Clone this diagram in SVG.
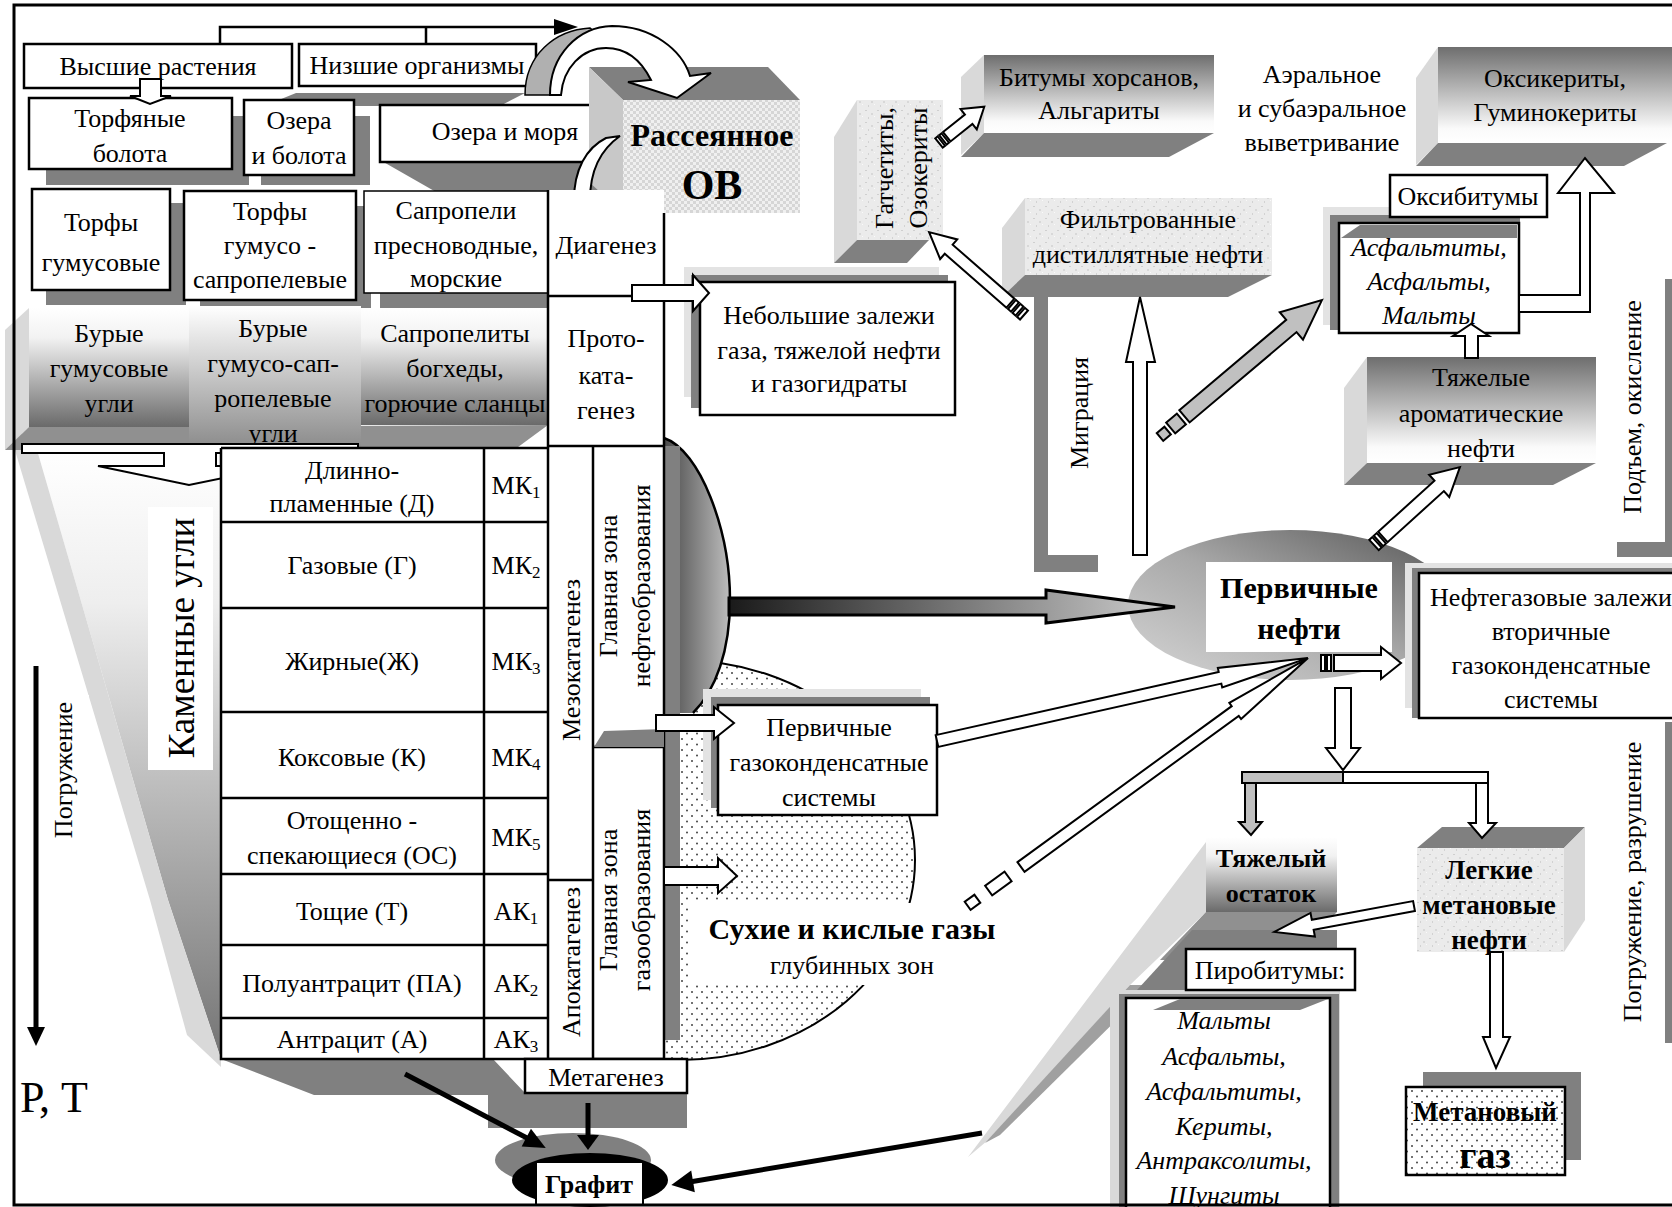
<svg xmlns="http://www.w3.org/2000/svg" width="1672" height="1207" viewBox="0 0 1672 1207">
<defs>
<style>
.t{font-family:"Liberation Serif","Times New Roman",serif;font-size:26px;fill:#000;text-anchor:middle;dominant-baseline:central}
.b{font-weight:bold}
.i{font-style:italic}
.box{fill:#fff;stroke:#000;stroke-width:2.5}
.sh{fill:#808080}
.lt{fill:#d9d9d9}
.lg{fill:#e3e3e3}
.aw{fill:#fff;stroke:#000;stroke-width:2;stroke-linejoin:miter}
.ag{fill:#c0c0c0;stroke:#000;stroke-width:2}
.ln{fill:none;stroke:#000;stroke-width:2.5}
.bl{fill:none;stroke:#000;stroke-width:5}
</style>
<pattern id="dots" width="10" height="11" patternUnits="userSpaceOnUse"><rect width="10" height="11" fill="#fff"/><circle cx="2" cy="2" r="1" fill="#444"/><circle cx="7" cy="7.5" r="1" fill="#444"/></pattern>
<pattern id="checker" width="6" height="6" patternUnits="userSpaceOnUse"><rect width="6" height="6" fill="#f0f0f0"/><rect width="3" height="3" fill="#d6d6d6"/><rect x="3" y="3" width="3" height="3" fill="#d6d6d6"/></pattern>
<pattern id="grain" width="12" height="12" patternUnits="userSpaceOnUse"><rect width="12" height="12" fill="#ebebeb"/><rect x="1" y="2" width="2" height="1" fill="#cfcfcf"/><rect x="7" y="5" width="2" height="2" fill="#d8d8d8"/><rect x="4" y="9" width="1" height="2" fill="#d2d2d2"/><rect x="10" y="8" width="1" height="1" fill="#fafafa"/></pattern>
<linearGradient id="gUp" x1="0" y1="0" x2="0" y2="1"><stop offset="0" stop-color="#6e6e6e"/><stop offset="0.85" stop-color="#fafafa"/><stop offset="1" stop-color="#ffffff"/></linearGradient>
<linearGradient id="gDown" x1="0" y1="0" x2="0" y2="1"><stop offset="0" stop-color="#ffffff"/><stop offset="0.25" stop-color="#f2f2f2"/><stop offset="1" stop-color="#6a6a6a"/></linearGradient>
<linearGradient id="gDown2" x1="0" y1="0" x2="0" y2="1"><stop offset="0" stop-color="#ffffff"/><stop offset="1" stop-color="#8c8c8c"/></linearGradient>
<linearGradient id="gFun" gradientUnits="userSpaceOnUse" x1="0" y1="450" x2="0" y2="1060"><stop offset="0" stop-color="#ffffff"/><stop offset="0.25" stop-color="#eeeeee"/><stop offset="1" stop-color="#747474"/></linearGradient>
<linearGradient id="gEll" x1="0" y1="1" x2="1" y2="0"><stop offset="0" stop-color="#d6d6d6"/><stop offset="0.5" stop-color="#a8a8a8"/><stop offset="1" stop-color="#555555"/></linearGradient>
<linearGradient id="gDome" x1="0" y1="0" x2="1" y2="0"><stop offset="0" stop-color="#4a4a4a"/><stop offset="1" stop-color="#bdbdbd"/></linearGradient>
<linearGradient id="gArr" x1="0" y1="0" x2="1" y2="0"><stop offset="0" stop-color="#1a1a1a"/><stop offset="1" stop-color="#d0d0d0"/></linearGradient>
</defs>
<rect width="1672" height="1207" fill="#fff"/>

<g id="gas-zone">
<ellipse cx="680" cy="860" rx="235" ry="200" fill="url(#dots)" stroke="#000" stroke-width="2"/>
<rect x="688" y="903" width="322" height="82" fill="#fff"/>
<text class="t b" x="852" y="928" style="font-size:30px">Сухие и кислые газы</text>
<text class="t" x="852" y="965">глубинных зон</text>
</g>

<g id="funnel">
<polygon fill="url(#gFun)" points="37,450 221,450 221,1059 168,900"/>
<polygon class="lt" points="5,417 37,450 168,900 221,1059 221,1067 187,1035 150,900"/>
<polygon class="sh" points="221,1059 314,1095 488,1095 488,1128 687,1128 687,1093 525,1093 493,1059"/>
</g>

<g id="top-line">
<path class="ln" d="M220 44 V27 H565 M426 27 V44"/>
<polygon points="578,27 554,19 554,35"/>
</g>

<g id="vysshie"><rect class="box" x="24" y="44" width="268" height="44"/><text class="t" x="158" y="66">Высшие растения</text></g>
<g id="nizshie"><rect class="box" x="299" y="44" width="237" height="42"/><text class="t" x="417" y="65">Низшие организмы</text></g>
<polygon class="sh" points="264,106 296,93 525,93 500,106"/>

<g id="torf-bolota"><rect class="sh" x="46" y="116" width="203" height="69"/><rect class="box" x="29" y="98" width="203" height="71"/><text class="t" x="130" y="118">Торфяные</text><text class="t" x="130" y="153">болота</text></g>
<polygon class="aw" points="140,79 161,79 161,96 171,96 150,104 130,96 140,96"/>
<g id="ozera-bolota"><rect class="sh" x="261" y="116" width="109" height="69"/><rect class="box" x="244" y="100" width="110" height="75"/><text class="t" x="299" y="120">Озера</text><text class="t" x="299" y="155">и болота</text></g>
<g id="ozera-morya"><polygon class="sh" points="380,160 600,160 600,190 436,192"/><rect class="box" x="380" y="105" width="250" height="57"/><text class="t" x="505" y="131">Озера и моря</text></g>

<g id="torfy-gum"><rect class="sh" x="46" y="203" width="140" height="102"/><rect class="box" x="32" y="189" width="138" height="101"/><text class="t" x="101" y="222">Торфы</text><text class="t" x="101" y="262">гумусовые</text></g>
<g id="torfy-gs"><rect class="sh" x="200" y="206" width="171" height="104"/><rect class="box" x="184" y="191" width="172" height="109"/><text class="t" x="270" y="211">Торфы</text><text class="t" x="270" y="245">гумусо -</text><text class="t" x="270" y="279">сапропелевые</text></g>
<g id="sapropeli"><rect class="sh" x="380" y="293" width="168" height="17"/><rect x="364" y="191" width="184" height="102" fill="#fff" stroke="#000" stroke-width="1.5"/><text class="t" x="456" y="210">Сапропели</text><text class="t" x="456" y="245">пресноводные,</text><text class="t" x="456" y="278">морские</text></g>

<g id="burye">
<polygon class="lt" points="5,330 29,308 29,427 5,450"/>
<polygon fill="#909090" points="5,450 29,427 548,425 514,450"/>
<rect x="29" y="308" width="160" height="119" fill="url(#gDown)"/>
<rect x="361" y="308" width="187" height="117" fill="url(#gDown)"/>
<rect x="189" y="306" width="172" height="141" fill="url(#gDown2)"/>
<text class="t" x="109" y="333">Бурые</text><text class="t" x="109" y="368">гумусовые</text><text class="t" x="109" y="403">угли</text>
<text class="t" x="273" y="328">Бурые</text><text class="t" x="273" y="363">гумусо-сап-</text><text class="t" x="273" y="398">ропелевые</text><text class="t" x="273" y="433">угли</text>
<text class="t" x="455" y="333">Сапропелиты</text><text class="t" x="455" y="368">богхеды,</text><text class="t" x="455" y="403">горючие сланцы</text>
</g>
<polygon class="aw" points="22,444 358,444 358,453 216,453 216,466 282,466 189,485 98,466 164,466 164,453 22,453"/>

<g id="kamennye"><rect x="148" y="507" width="65" height="263" fill="#fff"/><text class="t" transform="translate(181,638) rotate(-90)" style="font-size:37px">Каменные угли</text></g>

<g id="pogruzhenie">
<rect x="44" y="695" width="45" height="150" fill="#fff"/>
<text class="t" transform="translate(63,770) rotate(-90)">Погружение</text>
<line x1="36" y1="666" x2="36" y2="1030" stroke="#000" stroke-width="5"/>
<polygon points="27,1027 45,1027 36,1046"/>
</g>
<text class="t" x="20" y="1097" style="text-anchor:start;font-size:44px">Р, Т</text>

<g id="coal-table">
<rect x="221" y="448" width="327" height="611" fill="#fff"/>
<path class="ln" d="M221 448 V1059 H548 M221 448 H548 M221 522 H548 M221 608 H548 M221 712 H548 M221 798 H548 M221 874 H548 M221 945 H548 M221 1018 H548 M484 448 V1059"/>
<text class="t" x="352" y="470">Длинно-</text><text class="t" x="352" y="503">пламенные (Д)</text>
<text class="t" x="352" y="565">Газовые (Г)</text>
<text class="t" x="352" y="661">Жирные(Ж)</text>
<text class="t" x="352" y="757">Коксовые (К)</text>
<text class="t" x="352" y="820">Отощенно -</text><text class="t" x="352" y="855">спекающиеся (ОС)</text>
<text class="t" x="352" y="911">Тощие (Т)</text>
<text class="t" x="352" y="983">Полуантрацит (ПА)</text>
<text class="t" x="352" y="1039">Антрацит (А)</text>
<text class="t" x="516" y="485">МК<tspan font-size="17" dy="7">1</tspan></text>
<text class="t" x="516" y="565">МК<tspan font-size="17" dy="7">2</tspan></text>
<text class="t" x="516" y="661">МК<tspan font-size="17" dy="7">3</tspan></text>
<text class="t" x="516" y="757">МК<tspan font-size="17" dy="7">4</tspan></text>
<text class="t" x="516" y="837">МК<tspan font-size="17" dy="7">5</tspan></text>
<text class="t" x="516" y="911">АК<tspan font-size="17" dy="7">1</tspan></text>
<text class="t" x="516" y="983">АК<tspan font-size="17" dy="7">2</tspan></text>
<text class="t" x="516" y="1039">АК<tspan font-size="17" dy="7">3</tspan></text>
</g>

<g id="oil-dome">
<path d="M664,438 C700,450 730,530 730,600 C730,650 716,690 693,713 L664,713 Z" fill="url(#gDome)"/>
<path class="ln" d="M664,438 C700,450 730,530 730,600 C730,650 716,690 693,713"/>
<rect class="sh" x="664" y="446" width="16" height="594"/>
</g>

<g id="ov">
<polygon class="sh" points="589,67 768,67 800,100 623,100"/>
<polygon fill="#c8c8c8" points="589,67 623,100 623,213 589,182"/>
<rect x="623" y="100" width="177" height="113" fill="url(#checker)"/>
<text class="t b" x="712" y="135" style="font-size:32px">Рассеянное</text>
<text class="t b" x="712" y="185" style="font-size:42px">ОВ</text>
</g>
<g id="curved-arrows">
<path d="M525,95 C525,55 555,30 590,28 L600,36 C570,42 552,65 550,95 Z" fill="#b0b0b0" stroke="#000" stroke-width="1.5"/>
<path class="aw" d="M550,95 C550,55 578,27 612,26 C652,26 682,50 690,76 L711,73 L677,98 L628,82 L651,80 C642,62 628,48 606,48 C582,48 563,68 561,95 Z"/>
<path class="aw" d="M606,138 L620,136 C600,150 590,170 590,200 L597,200 L578,223 L565,200 L574,200 C574,170 586,148 606,138 Z"/>
</g>

<g id="column">
<rect x="548" y="190" width="116" height="869" fill="#fff"/>
<path class="ln" d="M548 190 V1059 H664 M664 213 V1059 M548 296 H664 M548 446 H664 M593 446 V1059 M593 747 H664 M548 880 H593"/>
<polygon class="sh" points="594,747 604,731 664,729 664,747"/>
<text class="t" x="606" y="245">Диагенез</text>
<text class="t" x="606" y="338">Прото-</text><text class="t" x="606" y="375">ката-</text><text class="t" x="606" y="410">генез</text>
<text class="t" transform="translate(571,660) rotate(-90)">Мезокатагенез</text>
<text class="t" transform="translate(608,586) rotate(-90)">Главная зона</text>
<text class="t" transform="translate(641,586) rotate(-90)">нефтеобразования</text>
<text class="t" transform="translate(571,962) rotate(-90)">Апокатагенез</text>
<text class="t" transform="translate(608,900) rotate(-90)">Главная зона</text>
<text class="t" transform="translate(641,900) rotate(-90)">газообразования</text>
</g>
<g id="metagenez"><rect class="box" x="525" y="1059" width="162" height="34"/><text class="t" x="606" y="1077">Метагенез</text></g>

<g id="nebolshie"><rect class="lg" x="684" y="267" width="255" height="130"/><rect class="sh" x="691" y="275" width="257" height="133"/><rect class="box" x="700" y="282" width="255" height="133"/><text class="t" x="829" y="315">Небольшие залежи</text><text class="t" x="829" y="350">газа, тяжелой нефти</text><text class="t" x="829" y="383">и газогидраты</text></g>
<g id="perv-gk"><rect class="lg" x="703" y="689" width="218" height="111"/><rect class="sh" x="711" y="697" width="219" height="111"/><rect class="box" x="718" y="705" width="219" height="110"/><text class="t" x="829" y="727">Первичные</text><text class="t" x="829" y="762">газоконденсатные</text><text class="t" x="829" y="797">системы</text></g>

<g id="gatchetity">
<polygon class="lt" points="834,137 857,100 857,240 834,263"/>
<polygon class="sh" points="857,240 929,240 907,263 834,263"/>
<rect x="857" y="100" width="86" height="140" fill="url(#grain)"/>
<text class="t" transform="translate(884,168) rotate(-90)">Гатчетиты,</text>
<text class="t" transform="translate(918,168) rotate(-90)">Озокериты</text>
</g>
<g id="bitumy">
<polygon class="lt" points="961,77 984,55 984,133 961,155"/>
<polygon class="sh" points="984,133 1214,133 1169,157 961,157"/>
<rect x="984" y="55" width="230" height="78" fill="url(#gUp)"/>
<text class="t" x="1099" y="77">Битумы хорсанов,</text><text class="t" x="1099" y="110">Альгариты</text>
</g>
<g id="filtr">
<polygon class="lt" points="1002,228 1025,198 1025,275 1002,300"/>
<polygon class="sh" points="1025,275 1272,275 1228,297 1002,297"/>
<rect x="1025" y="198" width="247" height="77" fill="url(#grain)"/>
<text class="t" x="1148" y="219">Фильтрованные</text><text class="t" x="1148" y="254">дистиллятные нефти</text>
</g>
<g id="migration"><rect class="sh" x="1034" y="285" width="14" height="287"/><rect class="sh" x="1034" y="555" width="64" height="17"/><text class="t" transform="translate(1079,413) rotate(-90)">Миграция</text></g>

<text class="t" x="1322" y="74">Аэральное</text><text class="t" x="1322" y="108">и субаэральное</text><text class="t" x="1322" y="142">выветривание</text>

<g id="oksikerity">
<polygon class="lt" points="1416,78 1438,47 1438,143 1416,165"/>
<polygon class="sh" points="1438,143 1667,143 1624,166 1416,166"/>
<rect x="1438" y="47" width="240" height="96" fill="url(#gUp)"/>
<text class="t" x="1555" y="78">Оксикериты,</text><text class="t" x="1555" y="112">Гуминокериты</text>
</g>
<g id="asfaltity">
<rect class="lg" x="1323" y="207" width="190" height="118"/>
<rect class="sh" x="1330" y="215" width="190" height="115"/>
<rect class="box" x="1339" y="223" width="180" height="110"/>
<polygon class="sh" points="1341,238 1360,225 1517,225 1517,238"/>
<text class="t i" x="1429" y="247">Асфальтиты,</text><text class="t i" x="1429" y="281">Асфальты,</text><text class="t i" x="1429" y="315">Мальты</text>
</g>
<g id="oksibitumy"><rect class="box" x="1390" y="175" width="157" height="42"/><text class="t" x="1468" y="196">Оксибитумы</text></g>
<polygon class="aw" points="1519,295 1580,295 1580,193 1558,193 1585,158 1614,193 1590,193 1590,312 1519,312"/>

<g id="tyazh-arom">
<polygon class="lt" points="1344,388 1367,357 1367,463 1344,485"/>
<polygon class="sh" points="1367,463 1596,463 1553,485 1344,485"/>
<rect x="1367" y="357" width="229" height="106" fill="url(#gUp)"/>
<text class="t" x="1481" y="377">Тяжелые</text><text class="t" x="1481" y="413">ароматические</text><text class="t" x="1481" y="448">нефти</text>
</g>
<polygon class="aw" points="1465,358 1465,336 1453,336 1471,324 1489,336 1478,336 1478,358"/>

<g id="podem"><rect class="sh" x="1665" y="279" width="10" height="278"/><rect class="sh" x="1617" y="542" width="58" height="15"/><text class="t" transform="translate(1632,407) rotate(-90)">Подъем, окисление</text></g>

<g id="pervichnye-nefti">
<ellipse cx="1290" cy="605" rx="162" ry="75" fill="url(#gEll)"/>
<rect x="1206" y="562" width="186" height="90" fill="#fff"/>
<text class="t b" x="1299" y="587" style="font-size:30px">Первичные</text><text class="t b" x="1299" y="628" style="font-size:30px">нефти</text>
</g>
<g id="neftegaz">
<rect class="lg" x="1405" y="563" width="280" height="145"/>
<rect class="sh" x="1412" y="568" width="280" height="150"/>
<rect class="box" x="1419" y="573" width="270" height="145"/>
<text class="t" x="1551" y="597">Нефтегазовые залежи</text><text class="t" x="1551" y="631">вторичные</text><text class="t" x="1551" y="665">газоконденсатные</text><text class="t" x="1551" y="699">системы</text>
</g>

<g id="tyazh-ostatok">
<polygon class="lt" points="1206,842 1206,912 1130,985 1000,1130 968,1157"/>
<polygon fill="#a0a0a0" points="1130,985 1152,985 1000,1135 985,1143"/>
<polygon fill="#909090" points="1206,912 1337,912 1290,960 1160,960"/>
<polygon class="sh" points="1137,990 1192,930 1337,930 1337,960 1305,997 1150,997"/>
<rect x="1206" y="837" width="131" height="75" fill="url(#gDown)"/>
<text class="t b" x="1271" y="858">Тяжелый</text><text class="t b" x="1271" y="893">остаток</text>
</g>
<g id="malty">
<rect class="lt" x="1110" y="990" width="230" height="220"/>
<rect class="sh" x="1119" y="994" width="220" height="215"/>
<rect class="box" x="1126" y="998" width="204" height="212"/>
<polygon class="sh" points="1153,1010 1180,999 1328,999 1300,1010"/>
<text class="t i" x="1224" y="1020">Мальты</text><text class="t i" x="1224" y="1056">Асфальты,</text><text class="t i" x="1224" y="1091">Асфальтиты,</text><text class="t i" x="1224" y="1126">Кериты,</text><text class="t i" x="1224" y="1160">Антраксолиты,</text><text class="t i" x="1224" y="1195">Шунгиты</text>
</g>
<g id="pirobitumy"><rect class="box" x="1186" y="949" width="169" height="41"/><text class="t" x="1270" y="970">Пиробитумы:</text></g>

<g id="legkie">
<polygon class="sh" points="1417,848 1564,848 1585,827 1442,827"/>
<polygon class="lt" points="1564,848 1585,827 1585,920 1564,952"/>
<rect x="1417" y="848" width="147" height="104" fill="url(#grain)"/>
<text class="t b" x="1489" y="870" style="font-size:27px">Легкие</text><text class="t b" x="1489" y="905" style="font-size:27px">метановые</text><text class="t b" x="1489" y="940" style="font-size:27px">нефти</text>
</g>
<g id="metan-gaz"><rect class="sh" x="1423" y="1072" width="158" height="88"/><rect x="1406" y="1087" width="159" height="88" fill="url(#dots)" stroke="#000" stroke-width="2.5"/><text class="t b" x="1485" y="1112" style="font-size:27px">Метановый</text><text class="t b" x="1485" y="1155" style="font-size:38px">газ</text></g>

<g id="pogr-razr"><rect class="sh" x="1665" y="722" width="10" height="321"/><text class="t" transform="translate(1632,882) rotate(-90)">Погружение, разрушение</text></g>

<g id="grafit">
<ellipse cx="573" cy="1160" rx="78" ry="27" fill="#808080"/>
<ellipse cx="590" cy="1180" rx="78" ry="27" fill="#000"/>
<rect class="box" x="536" y="1162" width="107" height="43" style="stroke-width:2"/>
<text class="t b" x="589" y="1184">Графит</text>
</g>

<g id="connectors">
<polygon class="aw" points="632,285 693,285 693,275 709,293 693,311 693,301 632,301"/>
<polygon class="aw" points="656,715 714,715 714,707 734,723 714,739 714,731 656,731"/>
<polygon class="aw" points="664,867 718,867 718,858 737,876 718,893 718,885 664,885"/>
<polygon points="729,598 1046,598 1046,590 1175,607 1046,623 1046,615 729,615" fill="url(#gArr)" stroke="#000" stroke-width="3"/>
<g transform="translate(937,741) rotate(-12.6)"><polygon class="aw" points="0,-6 290,-6 290,-10 380,0 290,10 290,6 0,6"/></g>
<g transform="translate(1021,867) rotate(-36.06)"><rect class="aw" x="-66" y="-5" width="12" height="10"/><rect class="aw" x="-40" y="-6" width="24" height="12"/><polygon class="aw" points="0,-6 265,-6 265,-10 355,0 265,10 265,6 0,6"/></g>
<polygon class="aw" points="1133,555 1147,555 1147,362 1155,362 1140,297 1126,362 1133,362"/>
<g transform="translate(1160,437) rotate(-40.2)"><rect class="ag" x="0" y="-5" width="10" height="10"/><rect class="ag" x="14" y="-7" width="14" height="14"/><polygon class="ag" points="32,-8 172,-8 172,-18 212,0 172,18 172,8 32,8"/></g>
<g transform="translate(1374,545) rotate(-42.2)"><rect class="aw" x="0" y="-7" width="4" height="14"/><rect class="aw" x="6" y="-7" width="4" height="14"/><polygon class="aw" points="12,-7 88,-7 88,-15 116,0 88,15 88,7 12,7"/></g>
<g transform="translate(1024,315) rotate(-138.86)"><rect class="aw" x="0" y="-6" width="4" height="12"/><rect class="aw" x="6" y="-6" width="4" height="12"/><rect class="aw" x="12" y="-6" width="4" height="12"/><polygon class="aw" points="18,-6 100,-6 100,-13 126,0 100,13 100,6 18,6"/></g>
<g transform="translate(939,143) rotate(-38.66)"><rect class="aw" x="0" y="-6" width="3" height="12"/><rect class="aw" x="5" y="-6" width="3" height="12"/><polygon class="aw" points="10,-6 38,-6 38,-13 58,0 38,13 38,6 10,6"/></g>
<rect class="aw" x="1321" y="655" width="4" height="16"/><rect class="aw" x="1327" y="655" width="4" height="16"/>
<polygon class="aw" points="1334,655 1381,655 1381,647 1401,663 1381,679 1381,671 1334,671"/>
<polygon class="aw" points="1335,688 1351,688 1351,748 1360,748 1343,770 1326,748 1335,748"/>
<rect class="ag" x="1242" y="772" width="101" height="11"/><rect class="aw" x="1343" y="772" width="145" height="11"/>
<polygon class="ag" points="1245,783 1256,783 1256,822 1262,822 1251,835 1239,822 1245,822"/>
<polygon class="aw" points="1476,783 1488,783 1488,823 1496,823 1482,838 1469,823 1476,823"/>
<g transform="translate(1414,906) rotate(169.5)"><polygon class="aw" points="0,-5 103,-5 103,-12 142,0 103,12 103,5 0,5"/></g>
<polygon class="aw" points="1490,952 1503,952 1503,1037 1510,1037 1496,1068 1483,1037 1490,1037"/>
<g transform="translate(405,1074) rotate(27.7)"><line class="bl" x1="0" y1="0" x2="140" y2="0"/><polygon points="159,0 137,-10 137,10"/></g>
<line class="bl" x1="588" y1="1103" x2="588" y2="1137"/><polygon points="577,1135 599,1135 588,1150"/>
<g transform="translate(982,1133) rotate(170.5)"><line class="bl" x1="0" y1="0" x2="295" y2="0"/><polygon points="315,0 293,-11 293,11"/></g>
</g>

<path d="M1672 5 H14 V1205 H1672" fill="none" stroke="#000" stroke-width="3"/>
</svg>
